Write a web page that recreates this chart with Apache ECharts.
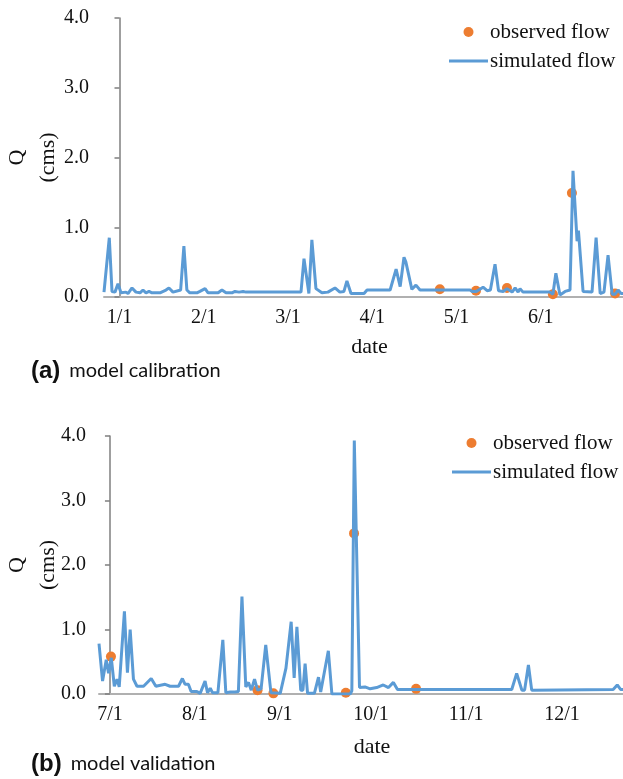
<!DOCTYPE html>
<html>
<head>
<meta charset="utf-8">
<script src="https://cdn.jsdelivr.net/npm/echarts@6/dist/echarts.min.js"></script>
<style>
  html, body { margin: 0; padding: 0; background: #fff; }
  #main { width: 623px; height: 779px; }
</style>
</head>
<body>
<div id="main"></div>
<script>
// x positions are in days along each panel's axis (0 = first tick label)
// (a) model calibration
const tickPosA = [0, 31, 62, 93, 124, 155];
const tickLabelsA = ['1/1', '2/1', '3/1', '4/1', '5/1', '6/1'];
const simDayA = [-5.7, -5.0, -3.75, -2.76, -1.66, -0.55, 0.55, 2.39, 3.13, 4.6, 6.07, 7.55, 8.65, 9.75, 10.86, 11.96,
  14.9, 17.1, 18.2, 19.7, 22.5, 23.7, 24.8, 25.9, 28.5, 29.6, 31.5, 32.6, 36.3, 37.7, 39.2, 41.4, 42.5, 44.0, 45.5, 46.6,
  66.8, 67.9, 69.7, 70.8, 72.3, 74.5, 76.7, 79.3, 81.1, 82.6, 83.7, 85.2, 90.0, 91.1, 99.6, 101.8, 103.3, 104.7, 105.4,
  107.6, 109.1, 110.6, 129.0, 129.8, 131.3, 133.8, 135.3, 136.5, 138.2, 139.5, 141.2, 142.6, 144.5, 145.6, 146.7, 147.4,
  148.5, 158.4, 159.5, 160.6, 162.1, 164.0, 165.8, 166.9, 168.4, 168.9, 170.6, 173.9, 175.4, 176.9, 178.3, 179.8, 181.3,
  182.4, 183.5, 184.6, 185.3];
const simQA = [0.07, 0.08, 0.85, 0.08, 0.07, 0.19, 0.06, 0.07, 0.05, 0.13, 0.07, 0.06, 0.10, 0.06, 0.08, 0.06,
  0.06, 0.10, 0.13, 0.07, 0.10, 0.73, 0.10, 0.06, 0.06, 0.08, 0.12, 0.06, 0.06, 0.10, 0.06, 0.06, 0.08, 0.07, 0.08, 0.07,
  0.07, 0.55, 0.05, 0.82, 0.12, 0.06, 0.07, 0.13, 0.07, 0.08, 0.23, 0.05, 0.05, 0.10, 0.10, 0.40, 0.15, 0.57, 0.50,
  0.11, 0.17, 0.10, 0.10, 0.08, 0.08, 0.14, 0.09, 0.10, 0.47, 0.09, 0.08, 0.12, 0.07, 0.13, 0.07, 0.12,
  0.07, 0.07, 0.04, 0.34, 0.03, 0.08, 0.10, 1.81, 0.80, 0.95, 0.08, 0.07, 0.85, 0.05, 0.07, 0.60, 0.04,
  0.04, 0.10, 0.05, 0.05];
const obsDayA = [117.9, 131.2, 142.6, 159.5, 166.5, 182.4];
const obsQA = [0.11, 0.09, 0.13, 0.04, 1.49, 0.05];

// (b) model validation
const tickPosB = [0, 31, 62.1, 95.5, 130.3, 165.4];
const tickLabelsB = ['7/1', '8/1', '9/1', '10/1', '11/1', '12/1'];
const simDayB = [-4.0, -2.7, -1.35, -0.5, 0.5, 1.6, 2.6, 3.4, 4.1, 5.3, 6.4, 7.4, 8.6, 9.9, 12.3, 15.1, 16.8, 20.2,
  22.0, 25.1, 26.5, 27.5, 28.7, 29.7, 31.8, 33.0, 34.8, 35.7, 36.7, 37.5, 39.5, 41.3, 42.4, 44.0, 45.8, 47.0, 48.3,
  49.7, 50.7, 51.7, 52.9, 54.0, 55.3, 57.0, 58.9, 62.3, 64.4, 64.9, 66.3, 67.4, 68.4, 69.8, 70.6, 71.4, 72.3, 74.8,
  76.3, 77.1, 79.9, 81.2, 87.9, 88.5, 89.4, 91.3, 93.3, 95.2, 97.6, 100.0, 101.9, 103.7, 105.2, 147.0, 148.8, 150.7,
  151.7, 153.1, 154.3, 184.1, 185.6, 186.8, 187.7];
const simQB = [0.78, 0.20, 0.53, 0.32, 0.56, 0.12, 0.23, 0.11, 0.14, 1.28, 0.33, 1.00, 0.23, 0.12, 0.12, 0.24, 0.12, 0.15,
  0.12, 0.12, 0.24, 0.15, 0.15, 0.04, 0.04, 0.01, 0.20, 0.02, 0.09, 0.02, 0.02, 0.84, 0.02, 0.03, 0.03, 0.04, 1.51,
  0.11, 0.18, 0.06, 0.23, 0.06, 0.08, 0.76, 0.02, 0.01, 0.40, 0.42, 1.12, 0.25, 1.04, 0.06, 0.06, 0.47, 0.01, 0.01,
  0.26, 0.03, 0.67, 0.00, 0.00, 0.05, 3.93, 0.10, 0.11, 0.08, 0.10, 0.14, 0.10, 0.18, 0.07, 0.07, 0.32, 0.06,
  0.06, 0.45, 0.06, 0.07, 0.14, 0.07, 0.07];
const obsDayB = [0.37, 54.0, 59.8, 86.3, 89.3, 112.0];
const obsQB = [0.58, 0.06, 0.01, 0.02, 2.49, 0.08];

const yTicks = [0, 1, 2, 3, 4];

const zip = (xs, ys) => xs.map((x, i) => [x, ys[i]]);
const serif = 'Liberation Serif';
const blue = '#5b9bd5';
const orange = '#ed7d31';

function xAxis(grid, min, max, pos, labels) {
  return {
    type: 'value', gridIndex: grid, min: min, max: max,
    name: 'date', nameLocation: 'middle', nameGap: grid ? 42 : 39, nameMoveOverlap: false,
    nameTextStyle: { fontFamily: serif, fontSize: 22, color: '#111', padding: [0, 0, 0, grid ? 22 : 12] },
    axisLine: { lineStyle: { color: '#b0b0b0', width: 2 } },
    axisTick: { show: false },
    splitLine: { show: false },
    axisLabel: {
      customValues: pos, margin: 11,
      fontFamily: serif, fontSize: 20, color: '#111',
      formatter: v => labels[pos.indexOf(v)]
    }
  };
}

function yAxis(grid, gap) {
  return {
    type: 'value', gridIndex: grid, min: yTicks[0], max: yTicks[yTicks.length - 1], interval: 1,
    name: 'Q\n(cms)', nameLocation: 'middle', nameRotate: 90, nameGap: gap, nameMoveOverlap: false,
    nameTextStyle: { fontFamily: serif, fontSize: 22, color: '#111', lineHeight: 31 },
    axisLine: { show: true, lineStyle: { color: '#7f7f7f', width: 1.5 } },
    axisTick: { show: true, length: 5, lineStyle: { color: '#7f7f7f', width: 1.5 } },
    splitLine: { show: false },
    axisLabel: { margin: grid ? 13 : 15, fontFamily: serif, fontSize: 20, color: '#111', formatter: v => v.toFixed(1) }
  };
}

function legend(left, top) {
  return {
    left: left, top: top, orient: 'vertical', padding: 0, itemGap: 5,
    itemWidth: 39, itemHeight: 10, symbolKeepAspect: true,
    data: [
      { name: 'observed flow', icon: 'circle' },
      { name: 'simulated flow', icon: 'path://M0,0L39,0L39,3L0,3Z' }
    ],
    textStyle: { fontFamily: serif, fontSize: 21, color: '#111', lineHeight: 24, padding: [0, 0, 0, -3] }
  };
}

function caption(letter, text, top) {
  return {
    left: 31, top: top, padding: 0,
    text: '{b|(' + letter + ')}{t|' + text + '}',
    textStyle: {
      rich: {
        b: { fontFamily: 'Liberation Sans', fontWeight: 'bold', fontSize: 24, color: '#111' },
        t: { fontFamily: 'Lato', fontWeight: 'normal', fontSize: 20, color: '#111', padding: [0, 0, 0, 9] }
      }
    }
  };
}

const chart = echarts.init(document.getElementById('main'));
chart.setOption({
  animation: false,
  title: [caption('a', 'model calibration', 359), caption('b', 'model validation', 752)],
  legend: [legend(449, 20), legend(452, 431)],
  grid: [
    { left: 104, right: 0, top: 18, height: 279, containLabel: false, outerBoundsMode: 'none' },
    { left: 99, right: 0, top: 436, height: 258, containLabel: false, outerBoundsMode: 'none' }
  ],
  xAxis: [xAxis(0, -5.7, 185.3, tickPosA, tickLabelsA), xAxis(1, -4.0, 187.7, tickPosB, tickLabelsB)],
  yAxis: [yAxis(0, 40), yAxis(1, 35)],
  series: [
    { name: 'observed flow', type: 'scatter', xAxisIndex: 0, yAxisIndex: 0, symbolSize: 10,
      itemStyle: { color: orange, opacity: 1 }, data: zip(obsDayA, obsQA) },
    { name: 'simulated flow', type: 'line', xAxisIndex: 0, yAxisIndex: 0, symbol: 'none',
      lineStyle: { color: blue, width: 3 }, itemStyle: { color: blue }, data: zip(simDayA, simQA) },
    { name: 'observed flow', type: 'scatter', xAxisIndex: 1, yAxisIndex: 1, symbolSize: 10,
      itemStyle: { color: orange, opacity: 1 }, data: zip(obsDayB, obsQB) },
    { name: 'simulated flow', type: 'line', xAxisIndex: 1, yAxisIndex: 1, symbol: 'none',
      lineStyle: { color: blue, width: 3 }, itemStyle: { color: blue }, data: zip(simDayB, simQB) }
  ]
});
</script>
</body>
</html>
